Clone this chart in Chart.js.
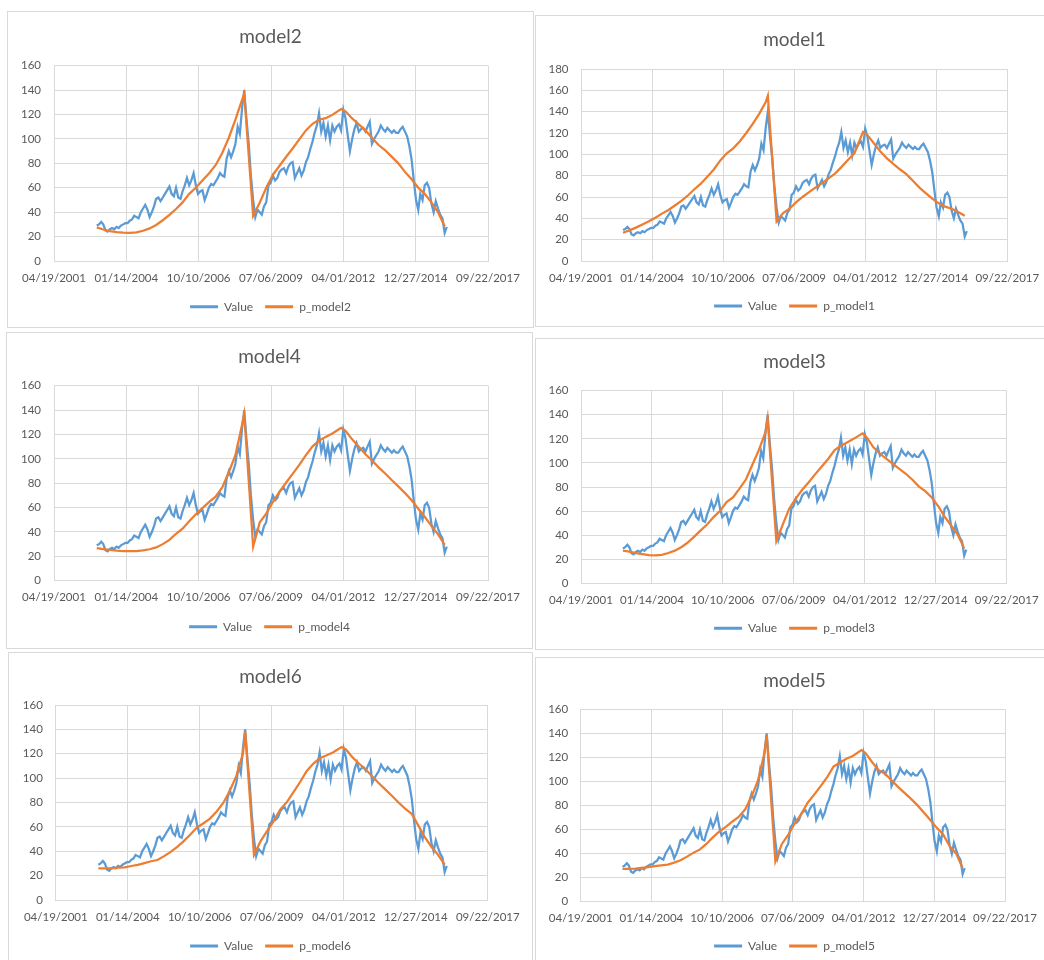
<!DOCTYPE html>
<html><head><meta charset="utf-8">
<script src="https://cdn.jsdelivr.net/npm/chart.js@4.4.1/dist/chart.umd.min.js"></script>
<style>
html,body{margin:0;padding:0;background:#fff;width:1044px;height:960px;overflow:hidden;position:relative;}
.panel{position:absolute;border:1px solid #d9d9d9;box-sizing:border-box;background:#fff;overflow:hidden;}
.panel canvas{position:absolute;left:0;top:0;}
</style></head><body>
<div id="p1" class="panel"><canvas id="c1"></canvas></div>
<div id="p2" class="panel"><canvas id="c2"></canvas></div>
<div id="p3" class="panel"><canvas id="c3"></canvas></div>
<div id="p4" class="panel"><canvas id="c4"></canvas></div>
<div id="p5" class="panel"><canvas id="c5"></canvas></div>
<div id="p6" class="panel"><canvas id="c6"></canvas></div>
<script>
// ---------- data ----------
const xTickLabels = ['04/19/2001','01/14/2004','10/10/2006','07/06/2009','04/01/2012','12/27/2014','09/22/2017'];

const valueDates = [
'2002-12',
'2003-01','2003-02','2003-03','2003-04','2003-05','2003-06','2003-07','2003-08','2003-09','2003-10','2003-11','2003-12',
'2004-01','2004-02','2004-03','2004-04','2004-05','2004-06','2004-07','2004-08','2004-09','2004-10','2004-11','2004-12',
'2005-01','2005-02','2005-03','2005-04','2005-05','2005-06','2005-07','2005-08','2005-09','2005-10','2005-11','2005-12',
'2006-01','2006-02','2006-03','2006-04','2006-05','2006-06','2006-07','2006-08','2006-09','2006-10','2006-11','2006-12',
'2007-01','2007-02','2007-03','2007-04','2007-05','2007-06','2007-07','2007-08','2007-09','2007-10','2007-11','2007-12',
'2008-01','2008-02','2008-03','2008-04','2008-05','2008-06','2008-07','2008-08','2008-09','2008-10','2008-11','2008-12',
'2009-01','2009-02','2009-03','2009-04','2009-05','2009-06','2009-07','2009-08','2009-09','2009-10','2009-11','2009-12',
'2010-01','2010-02','2010-03','2010-04','2010-05','2010-06','2010-07','2010-08','2010-09','2010-10','2010-11','2010-12',
'2011-01','2011-02','2011-03','2011-04','2011-05','2011-06','2011-07','2011-08','2011-09','2011-10','2011-11','2011-12',
'2012-01','2012-02','2012-03','2012-04','2012-05','2012-06','2012-07','2012-08','2012-09','2012-10','2012-11','2012-12',
'2013-01','2013-02','2013-03','2013-04','2013-05','2013-06','2013-07','2013-08','2013-09','2013-10','2013-11','2013-12',
'2014-01','2014-02','2014-03','2014-04','2014-05','2014-06','2014-07','2014-08','2014-09','2014-10','2014-11','2014-12',
'2015-01','2015-02','2015-03','2015-04','2015-05','2015-06','2015-07','2015-08','2015-09','2015-10','2015-11','2015-12',
'2016-01','2016-02','2016-03'
];
const valueSeries = [
29,
30,32,30,25,24,26,27,26,28,27,29,30,
31,31,33,34,37,36,35,40,43,46,42,36,
40,45,51,52,49,52,55,58,61,55,53,60,
52,51,57,62,68,62,66,72,62,55,57,58,
50,55,60,63,62,65,68,72,70,69,84,90,
85,90,96,110,104,125,140,116,96,70,50,36,
42,40,38,45,48,62,64,70,66,68,73,75,
76,72,77,80,81,68,72,76,70,74,81,85,
92,98,105,111,121,106,113,102,111,99,111,106,
110,112,107,124,117,103,90,100,108,113,106,108,
109,106,110,114,96,100,103,106,111,108,106,109,
107,105,107,105,105,108,110,106,102,94,83,66,
50,42,55,50,62,64,60,47,40,49,43,38,
35,23,28
];

const predDates = [
'2002-12','2003-03','2003-06','2003-09','2003-12','2004-03','2004-06','2004-09','2004-12',
'2005-03','2005-06','2005-09','2005-12','2006-03','2006-06','2006-09','2006-12',
'2007-03','2007-06','2007-09','2007-12','2008-03','2008-06','2008-07','2008-11',
'2009-02','2009-05','2009-08','2009-11','2010-02','2010-05','2010-08','2010-11',
'2011-02','2011-05','2011-08','2011-11','2012-03','2012-05','2012-08','2012-11',
'2013-02','2013-05','2013-08','2013-11','2014-02','2014-05','2014-08','2014-11',
'2015-02','2015-05','2015-08','2015-11','2016-02'
];
const pModel1 = [26.5,28.7,31.3,34.3,37.2,40.6,44.4,47.8,52,56.3,61.4,67.3,72.5,79,85.8,94.3,101,105.6,112,120,128.6,138,149,155,
37,45,49,55,60,64.5,68.8,73,77.5,82,88,94.6,101,121,118,110.4,102.6,96.2,91,86,81.4,75.2,69,63.7,58.5,54,51,49,46,42.4];
const pModel2 = [27.5,25.8,24.5,23.6,23.2,23.1,23.5,24.8,26.7,29.5,33.4,37.8,42.6,48,55,60,66,71.7,78.5,88.5,101,115.8,132,137,
37,48,60,70.6,78,85.4,92.2,99.6,107,112.4,115.7,117,119.7,124.5,122.6,116.8,112,107,101,95,90.7,85.3,80,73,67,60,55,48,40,28.5];
const pModel3 = [27.1,26.3,25,24.2,23.5,23.2,23.6,25.2,27.1,30,33.8,38.8,44,48.8,55,60.2,67.5,71.4,78.7,86.4,98.7,110.8,125.5,137,
35,49,62,70.3,77.7,84,90.5,96.8,103.3,110.7,114.3,117.2,120.2,124.6,121,113,107.6,103.4,99.3,95,91,86,80.5,76.5,71.3,64,55.4,48,40.5,29];
const pModel4 = [26.8,26,25.2,24.6,24.3,24.3,24.3,24.8,25.8,27.3,30,33.5,38.5,42.7,48.7,54.5,59.5,64.4,69,76.6,89,103,128,137,
28,48,55,64.6,73,80.6,87.6,95,103,110.2,114.8,118,120.8,125.5,123,116,110,103.8,98.8,93,88,82.4,77.4,72,66,59,52.5,45,38,29.5];
const pModel5 = [27.2,27.3,27.5,28.1,28.8,29.5,30.2,30.9,32.5,34.4,37.5,40.8,43.5,48,53.5,58.4,62.2,66.5,70.5,76.8,87.4,101,124,138.7,
33.5,48,55.5,65,72.8,82.3,88.8,95.9,103.3,112.3,115.6,118.8,121.2,126,123.5,116,109.4,106.3,101,95.5,90.5,85.5,80.3,74.2,68,61.4,56,46.2,40,28];
const pModel6 = [26,26,26,26.5,26.8,27.9,28.8,30.3,31.8,32.8,36,39.5,43.6,48.3,53.8,59.5,63,66.8,72.6,79.6,89.7,101.8,120.4,138,
37,48.3,56.5,64.7,74.4,80.4,88.3,96.6,105.7,111.7,116.3,118.5,121,125.5,123.5,117,111.8,107,101.4,95.8,90.6,85.3,80,75,70.6,61,51.5,43.7,37,29];

// ---------- helpers ----------
const EPOCH = Date.UTC(1899, 11, 30);
function serialFromYM(s){ const [y,m] = s.split('-').map(Number); return (Date.UTC(y, m-1, 1) - EPOCH) / 86400000; }
function serialFromMDY(s){ const [m,d,y] = s.split('/').map(Number); return (Date.UTC(y, m-1, d) - EPOCH) / 86400000; }
function labelFromSerial(v){
  const dt = new Date(EPOCH + v * 86400000);
  const p = n => String(n).padStart(2,'0');
  return p(dt.getUTCMonth()+1) + '/' + p(dt.getUTCDate()) + '/' + dt.getUTCFullYear();
}
const xTickValues = xTickLabels.map(serialFromMDY);
const toPoints = (dates, vals) => dates.map((d,i) => ({x: serialFromYM(d), y: vals[i]}));

const TEXT = '#595959', GRID = '#d9d9d9', BLUE = '#5B9BD5', ORANGE = '#ED7D31';
const FONT = 'Lato';

// box: outer [left, top, width, height]; yl/yr: widths left/right of plot; pb: bottom padding
const panels = [
  {n:1, title:'model2', name:'p_model2', pred:pModel2, yMax:160, box:[7,11,527,317],   yl:46,   yr:45,   yp:13, pb:4.3, t1:13.6, t2:17.3, xh:27.7},
  {n:2, title:'model1', name:'p_model1', pred:pModel1, yMax:180, box:[535,15,519,312], yl:45,   yr:45.7, yp:12.5, pb:4,   t1:12.6, t2:17.6, xh:27},
  {n:3, title:'model4', name:'p_model4', pred:pModel4, yMax:160, box:[6,332,527,317],  yl:47,   yr:44,   yp:13, pb:5.3, t1:12.3, t2:17.6, xh:28},
  {n:4, title:'model3', name:'p_model3', pred:pModel3, yMax:160, box:[535,338,519,312], yl:45,  yr:46.3, yp:12.5, pb:4.7, t1:11.9, t2:17,   xh:27},
  {n:5, title:'model6', name:'p_model6', pred:pModel6, yMax:160, box:[8,652,525,320],  yl:46.8, yr:44.2, yp:13, pb:9,   t1:12.3, t2:16.9, xh:28},
  {n:6, title:'model5', name:'p_model5', pred:pModel5, yMax:160, box:[535,657,519,320], yl:44.7, yr:48,  yp:12.5, pb:14,  t1:11.6, t2:16.9, xh:26.3}
];

panels.forEach(p => {
  const div = document.getElementById('p' + p.n);
  const [x, y, w, h] = p.box;
  Object.assign(div.style, {left: x + 'px', top: y + 'px', width: w + 'px', height: h + 'px'});
  const cv = document.getElementById('c' + p.n);
  const W = w - 2, H = h - 2;
  cv.width = W; cv.height = H; cv.style.width = W + 'px'; cv.style.height = H + 'px';

  new Chart(cv, {
    type: 'line',
    data: {
      datasets: [
        {label: 'Value', data: toPoints(valueDates, valueSeries), borderColor: BLUE, backgroundColor: BLUE,
         borderWidth: 2.25, pointRadius: 0, tension: 0, order: 2, yAxisID: 'y'},
        {label: p.name, data: toPoints(predDates, p.pred), borderColor: ORANGE, backgroundColor: ORANGE,
         borderWidth: 2.25, pointRadius: 0, tension: 0, order: 1, yAxisID: 'y'}
      ]
    },
    options: {
      responsive: false,
      animation: false,
      events: [],
      layout: {padding: {left: 0, right: 0, top: 0, bottom: p.pb}},
      plugins: {
        title: {display: true, text: p.title, color: TEXT,
                font: {family: FONT, size: 19, weight: 'normal'},
                padding: {top: p.t1, bottom: p.t2}},
        legend: {display: true, position: 'bottom',
                 labels: {color: TEXT, font: {family: FONT, size: 12}, boxWidth: 28, boxHeight: 3, padding: 12,
                          sort: (a, b) => a.datasetIndex - b.datasetIndex,
                          generateLabels: chart => Chart.defaults.plugins.legend.labels.generateLabels(chart)
                            .map(it => Object.assign(it, {lineWidth: 0}))}},
        tooltip: {enabled: false}
      },
      scales: {
        x: {type: 'linear', min: xTickValues[0], max: xTickValues[xTickValues.length - 1],
            afterBuildTicks: s => { s.ticks = xTickValues.map(v => ({value: v})); },
            afterFit: s => { s.height = p.xh; },
            grid: {color: GRID, lineWidth: 1, drawTicks: false},
            border: {color: GRID},
            ticks: {color: TEXT, font: {family: FONT, size: 11.5}, padding: 10, autoSkip: false, maxRotation: 0,
                    callback: v => labelFromSerial(v)}},
        y: {position: 'left', min: 0, max: p.yMax,
            afterFit: s => { s.width = p.yl; },
            grid: {color: GRID, lineWidth: 1, drawTicks: false},
            border: {color: GRID},
            ticks: {stepSize: 20, color: TEXT, font: {family: FONT, size: 11.5}, padding: p.yp}},
        yRight: {position: 'right', min: 0, max: p.yMax,
            afterFit: s => { s.width = p.yr; },
            grid: {display: false, drawTicks: false},
            border: {display: false},
            ticks: {display: false}}
      }
    }
  });
});
</script>
</body></html>
